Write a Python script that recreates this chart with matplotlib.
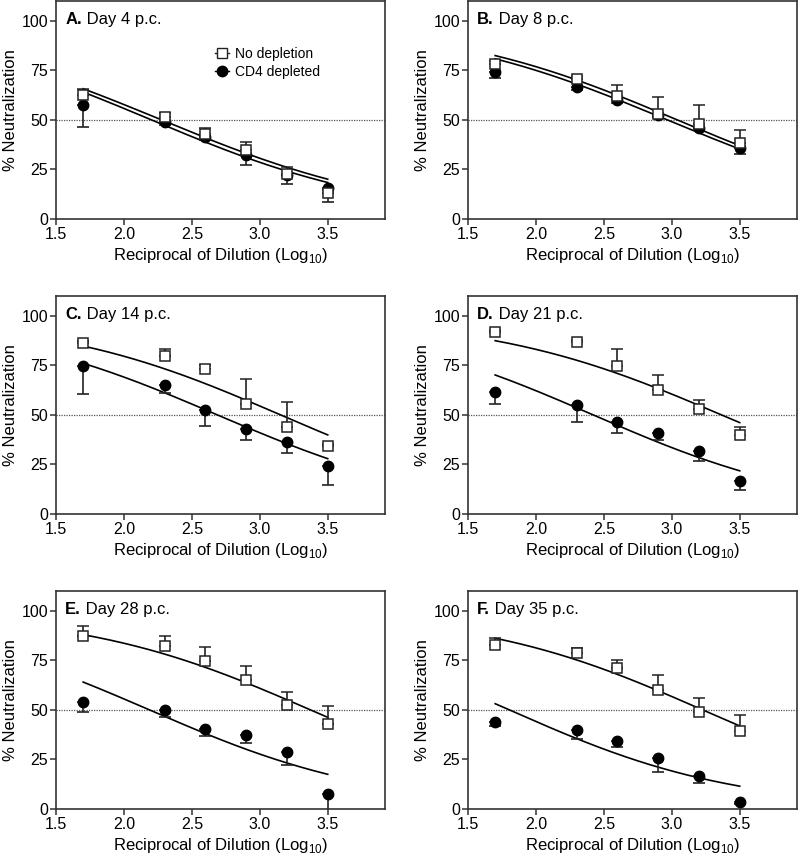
import numpy as np
import matplotlib
matplotlib.use("Agg")
import matplotlib.pyplot as plt
from matplotlib.lines import Line2D

plt.rcParams['font.family'] = ['Liberation Sans', 'DejaVu Sans']
plt.rcParams['mathtext.fontset'] = 'custom'
plt.rcParams['mathtext.rm'] = 'Liberation Sans'

# dilutions (log10 of reciprocal)
dilution = [1.7, 2.3, 2.6, 2.9, 3.2, 3.5]

panel_letters = ['A.', 'B.', 'C.', 'D.', 'E.', 'F.']
panel_days = ['Day 4 p.c.', 'Day 8 p.c.', 'Day 14 p.c.',
              'Day 21 p.c.', 'Day 28 p.c.', 'Day 35 p.c.']

# no depletion: mean and SEM (upper bars)
nodep_mean = [
    [62.4, 51.5, 43.1, 34.8, 22.7, 13.0],
    [78.3, 70.7, 61.9, 52.8, 47.8, 38.1],
    [86.1, 79.7, 73.0, 55.5, 44.1, 34.1],
    [91.6, 86.9, 74.7, 62.6, 52.9, 39.6],
    [87.4, 82.0, 74.8, 64.9, 52.6, 42.9],
    [82.5, 78.6, 71.1, 59.9, 49.1, 39.1],
]
nodep_sem = [
    [3.3, 2.0, 2.9, 3.8, 3.3, 1.5],
    [1.5, 1.5, 5.8, 8.7, 9.7, 6.7],
    [1.0, 3.5, 2.0, 12.5, 12.6, 1.0],
    [1.0, 1.0, 8.5, 7.5, 4.7, 4.5],
    [4.7, 5.4, 6.7, 7.0, 6.2, 8.9],
    [3.6, 2.5, 4.2, 7.5, 6.7, 8.1],
]

# CD4 depleted: mean and SEM (lower bars)
cd4_mean = [
    [57.4, 49.0, 41.5, 32.3, 22.2, 15.5],
    [74.1, 66.6, 59.9, 52.3, 45.7, 35.6],
    [74.7, 64.8, 52.5, 43.0, 36.2, 24.0],
    [61.4, 55.0, 46.6, 41.1, 31.9, 16.9],
    [54.0, 49.7, 40.5, 37.1, 28.6, 7.7],
    [44.1, 39.7, 34.1, 25.7, 16.4, 3.5],
]
cd4_sem = [
    [11.2, 1.5, 1.5, 5.3, 4.6, 7.0],
    [2.9, 1.7, 1.5, 1.0, 1.0, 2.8],
    [14.3, 3.9, 7.9, 5.6, 5.5, 9.2],
    [5.9, 8.4, 5.8, 3.7, 5.1, 5.0],
    [5.1, 3.3, 3.9, 3.8, 6.6, 9.0],
    [2.5, 4.5, 2.7, 7.2, 3.2, 1.0],
]

# sigmoidal fits (top 100, bottom 0): log IC50 and hill slope
nodep_fit = [(2.276, 0.490), (3.039, 0.501), (3.152, 0.512),
             (3.365, 0.505), (3.372, 0.515), (3.226, 0.519)]
cd4_fit = [(2.202, 0.498), (2.966, 0.493), (2.687, 0.507),
           (2.420, 0.514), (2.187, 0.513), (1.803, 0.522)]


def sigmoid(x, logic50, hill):
    return 100.0 / (1.0 + 10 ** ((x - logic50) * hill))


lefts = [0.07, 0.585]
bottoms = [0.745, 0.4016, 0.0582]
width, height = 0.411, 0.254

fig = plt.figure(figsize=(8, 8.59), dpi=100)
spine_col = '#333333'
xfit = np.linspace(1.7, 3.5, 200)

for k in range(6):
    row, col = divmod(k, 2)
    ax = fig.add_axes([lefts[col], bottoms[row], width, height])

    ax.axhline(50, color='#555555', lw=0.9, ls=(0, (1, 1)), zorder=1)

    for fit in (nodep_fit[k], cd4_fit[k]):
        ax.plot(xfit, sigmoid(xfit, *fit), color='black', lw=1.2, zorder=2)

    n = len(dilution)
    ax.errorbar(dilution, cd4_mean[k], yerr=[cd4_sem[k], [0] * n],
                fmt='o', ms=7.5, mfc='black', mec='black', ecolor='#222222',
                elinewidth=1.2, capsize=4, capthick=1.2, zorder=3)
    ax.errorbar(dilution, nodep_mean[k], yerr=[[0] * n, nodep_sem[k]],
                fmt='s', ms=7.5, mfc='white', mec='#222222', mew=1.1,
                ecolor='#222222', elinewidth=1.2, capsize=4, capthick=1.2,
                zorder=4)

    ax.set_xlim(1.5, 3.92)
    ax.set_ylim(0, 110)
    ax.set_xticks([1.5, 2.0, 2.5, 3.0, 3.5])
    ax.set_xticklabels(['1.5', '2.0', '2.5', '3.0', '3.5'])
    ax.set_yticks([0, 25, 50, 75, 100])
    ax.tick_params(direction='out', length=4, width=1.1, color=spine_col,
                   labelsize=11.5, pad=1.5)
    for sp in ax.spines.values():
        sp.set_color(spine_col)
        sp.set_linewidth(1.2)

    ax.set_xlabel('Reciprocal of Dilution (Log$_{10}$)', fontsize=12,
                  labelpad=3)
    ax.set_ylabel('% Neutralization', fontsize=12, labelpad=3)

    t1 = ax.text(0.028, 0.915, panel_letters[k], transform=ax.transAxes,
                 fontsize=12, fontweight='bold', va='center', ha='left')
    ax.annotate(' ' + panel_days[k], xy=(1, 0.5), xycoords=t1,
                va='center', ha='left', fontsize=12)

    if k == 0:
        handles = [
            Line2D([], [], color='#222222', lw=1.0, marker='s', ms=7.5,
                   mfc='white', mec='#222222'),
            Line2D([], [], color='black', lw=1.0, marker='o', ms=7.5,
                   mfc='black', mec='black'),
        ]
        ax.legend(handles, ['No depletion', 'CD4 depleted'],
                  loc='upper left', bbox_to_anchor=(0.455, 0.835),
                  frameon=False, fontsize=10, handlelength=1.0,
                  handletextpad=0.4, labelspacing=0.3, borderpad=0.2)

fig.savefig('out.png', dpi=100)
